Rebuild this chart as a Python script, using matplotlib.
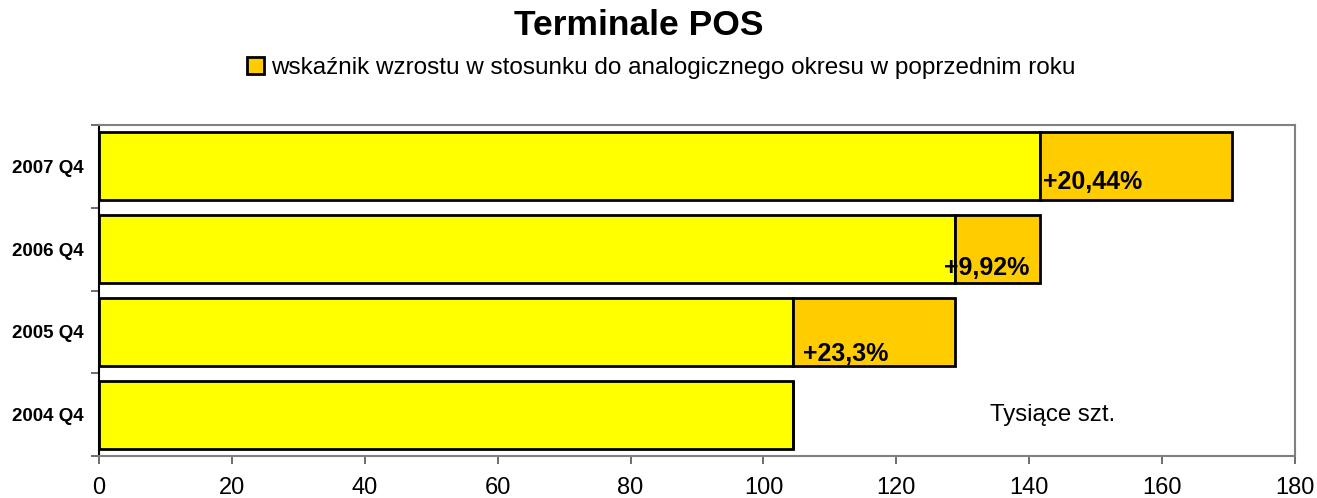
import matplotlib
matplotlib.use("Agg")
import matplotlib.pyplot as plt
from matplotlib.patches import Patch

plt.rcParams['font.family'] = ['Liberation Sans', 'DejaVu Sans']

# data (thousands of POS terminals)
quarters = ["2004 Q4", "2005 Q4", "2006 Q4", "2007 Q4"]
totals = [104.5, 128.8, 141.6, 170.5]
growth_labels = ["", "+23,3%", "+9,92%", "+20,44%"]
x_ticks = [0, 20, 40, 60, 80, 100, 120, 140, 160, 180]

# previous year's level is the yellow base, increase is the orange part
base = [totals[0]] + totals[:-1]
increase = [0] + [t - b for t, b in zip(totals[1:], totals[:-1])]

fig = plt.figure(figsize=(13.17, 4.98), dpi=100)
ax = fig.add_axes([99 / 1317, 42 / 498, 1196 / 1317, 331 / 498])

y = list(range(len(quarters)))
bar_h = 0.82
ax.barh(y, base, height=bar_h, color="#FFFF00", edgecolor="black", linewidth=2, zorder=3)
ax.barh(y, increase, left=base, height=bar_h, color="#FFCC00", edgecolor="black",
        linewidth=2, zorder=3)

# growth labels near the start of the orange part (offsets in points)
offsets = [(0, 0), (7.2, 3.6), (-8, 6), (2.2, 8.4)]
for i in range(1, len(quarters)):
    ax.annotate(growth_labels[i], xy=(base[i], y[i] - bar_h / 2), xytext=offsets[i],
                textcoords="offset points", ha="left", va="baseline",
                fontsize=18, fontweight="bold", zorder=5)

ax.text(143.5, 0.0, "Tysiące szt.", fontsize=17.3, ha="center", va="center")

ax.set_xlim(0, 180)
ax.set_ylim(-0.5, 3.5)
ax.set_xticks(x_ticks)
ax.set_xticklabels([str(v) for v in x_ticks], fontsize=17)
ax.set_yticks(y)
ax.set_yticklabels(quarters, fontsize=13.5, fontweight="bold")
ax.set_yticks([-0.5, 0.5, 1.5, 2.5, 3.5], minor=True)
ax.tick_params(axis="y", which="major", length=0, pad=10.8)
ax.tick_params(axis="y", which="minor", length=6, color="#555555", width=1.2)
ax.tick_params(axis="x", length=5.8, color="#555555", width=1.2, pad=9.5)
for s in ax.spines.values():
    s.set_color("#808080")
    s.set_linewidth(1.5)
ax.spines["left"].set_color("black")

fig.text(0.485, 0.948, "Terminale POS", fontsize=25.5, fontweight="bold",
         ha="center", va="center")
handle = Patch(facecolor="#FFCC00", edgecolor="black", linewidth=2)
fig.legend([handle], ["wskaźnik wzrostu w stosunku do analogicznego okresu w poprzednim roku"],
           loc="center", bbox_to_anchor=(0.502, 0.863), frameon=False, fontsize=17.5,
           handlelength=0.7, handleheight=0.7, handletextpad=0.3)

plt.savefig("out.png", dpi=100)
